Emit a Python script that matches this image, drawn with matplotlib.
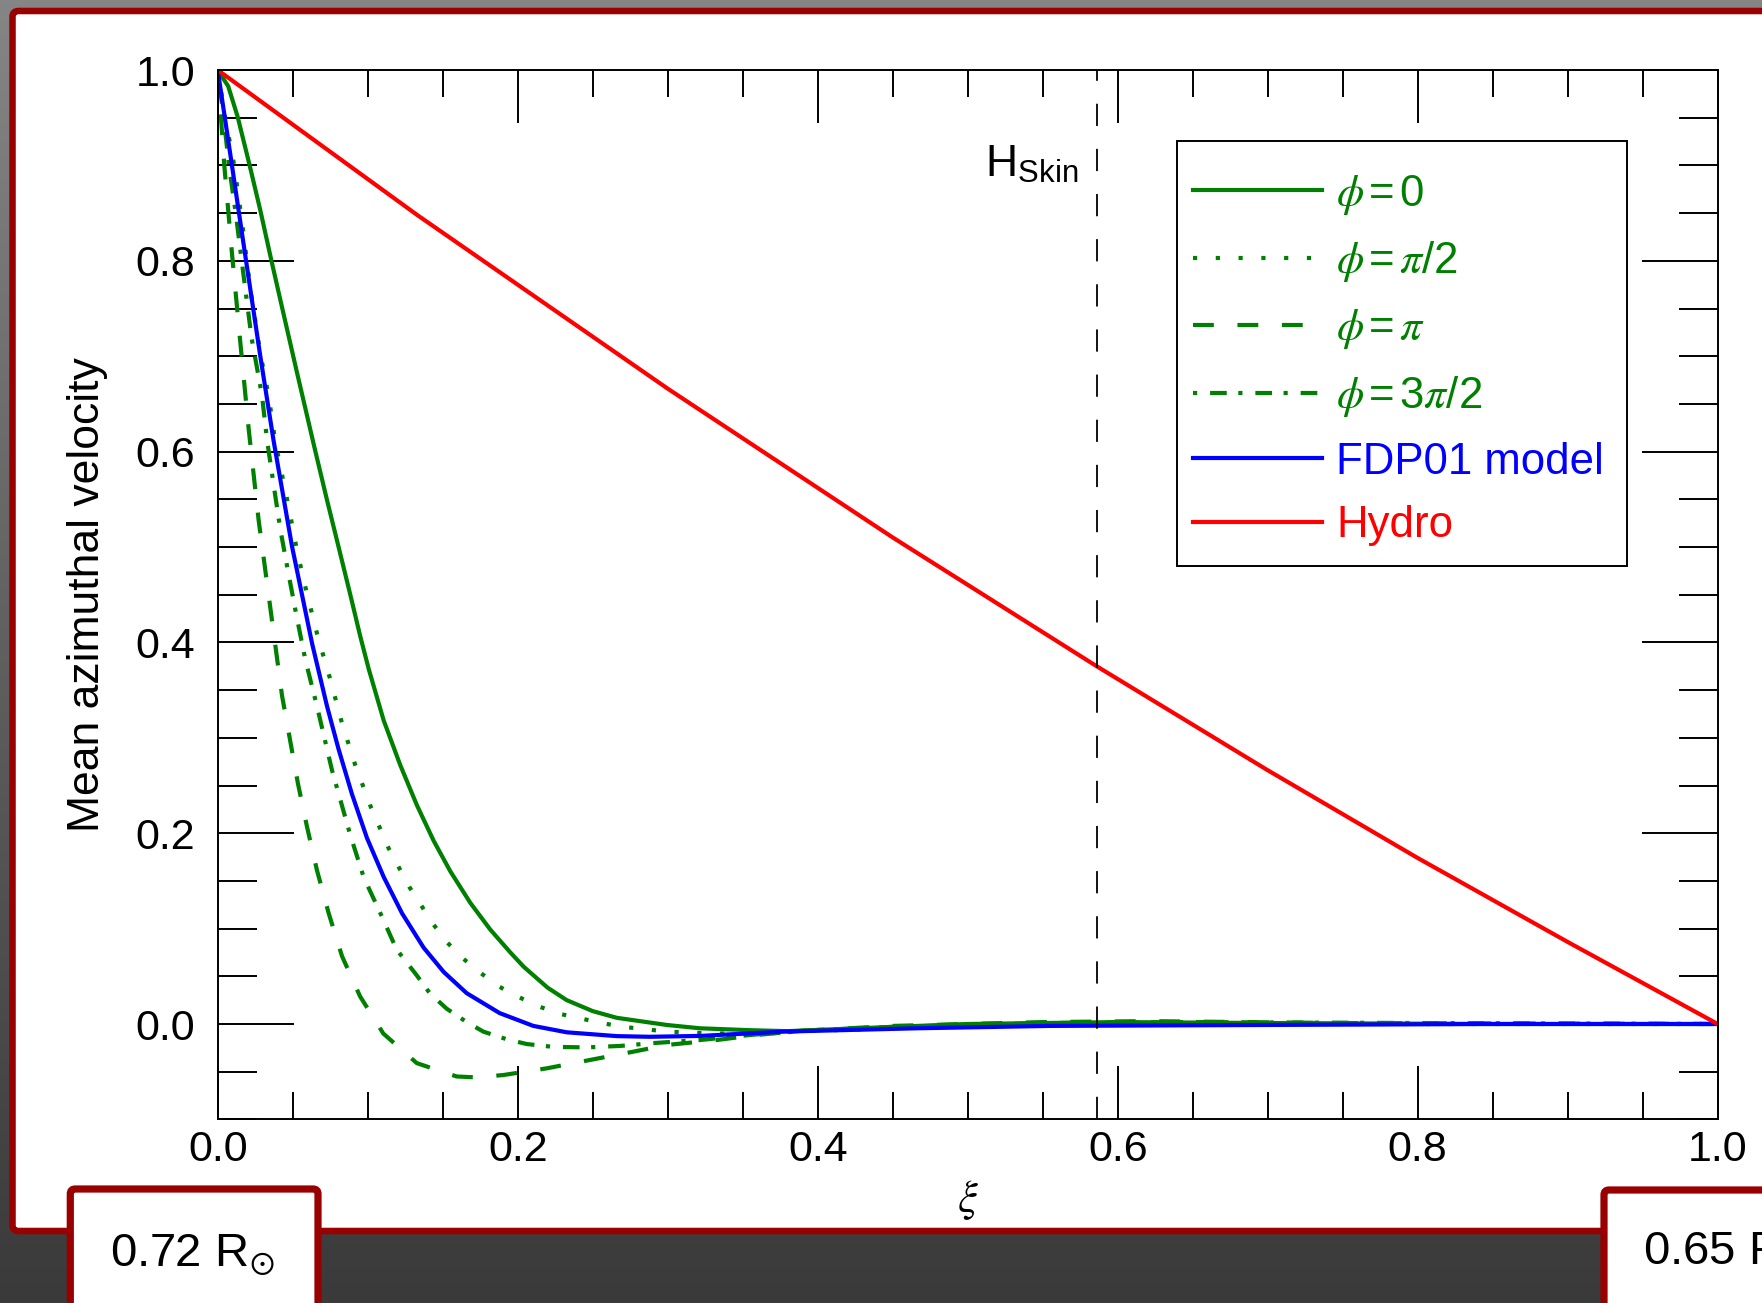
import numpy as np
import matplotlib
matplotlib.use('Agg')
import matplotlib.pyplot as plt
from matplotlib.lines import Line2D
from matplotlib.patches import FancyBboxPatch, Rectangle
from matplotlib.colors import LinearSegmentedColormap
from matplotlib.ticker import MultipleLocator, FormatStrFormatter

plt.rcParams['font.family'] = ['Liberation Sans', 'DejaVu Sans']
plt.rcParams['mathtext.fontset'] = 'custom'
plt.rcParams['mathtext.rm'] = 'Liberation Sans'
plt.rcParams['mathtext.it'] = 'STIXGeneral:italic'
plt.rcParams['mathtext.bf'] = 'Liberation Sans:bold'
plt.rcParams['mathtext.fallback'] = 'stix'
plt.rcParams['lines.scale_dashes'] = False

# values
xi_phi0 = [0, 0.007, 0.0133, 0.0213, 0.0284, 0.0357, 0.0422, 0.0524, 0.065, 0.0729,
           0.0806, 0.0884, 0.0951, 0.1007, 0.1107, 0.1218, 0.1329, 0.144, 0.1551, 0.1684,
           0.1817, 0.1951, 0.204, 0.22, 0.2327, 0.25, 0.266, 0.2993, 0.3215, 0.355,
           0.38, 0.45, 0.5, 0.55, 0.6, 0.7, 0.85, 1.0]
v_phi0 = [1.0, 0.983, 0.951, 0.900, 0.853, 0.801, 0.756, 0.686, 0.601, 0.549,
          0.500, 0.450, 0.406, 0.372, 0.318, 0.271, 0.229, 0.192, 0.160, 0.127,
          0.099, 0.075, 0.060, 0.038, 0.025, 0.0135, 0.0065, -0.001, -0.0045, -0.0065,
          -0.0075, -0.003, 0.0, 0.001, 0.002, 0.001, 0.0, 0.0]

xi_phi_half = [0, 0.005, 0.011, 0.0162, 0.0217, 0.0284, 0.034, 0.0384, 0.0473, 0.0529,
               0.0595, 0.0669, 0.0751, 0.0829, 0.0918, 0.1022, 0.114, 0.128, 0.144, 0.1527,
               0.1633, 0.1749, 0.1867, 0.1997, 0.2131, 0.2271, 0.2415, 0.256, 0.2704, 0.30,
               0.33, 0.36, 0.40, 0.5, 0.6, 0.75, 1.0]
v_phi_half = [1.0, 0.95, 0.9, 0.841, 0.771, 0.703, 0.658, 0.610, 0.542, 0.496,
              0.451, 0.405, 0.361, 0.315, 0.271, 0.227, 0.184, 0.143, 0.104, 0.086,
              0.069, 0.054, 0.040, 0.029, 0.019, 0.011, 0.006, 0.001, -0.003, -0.008,
              -0.010, -0.010, -0.007, -0.002, 0.001, 0.0, 0.0]

xi_phi_pi = [0, 0.0044, 0.0095, 0.0151, 0.0207, 0.0273, 0.0351, 0.0429, 0.0535, 0.0595,
             0.0662, 0.074, 0.0829, 0.0949, 0.1104, 0.1327, 0.1593, 0.1727, 0.1904, 0.2193,
             0.2482, 0.2771, 0.2993, 0.3327, 0.3593, 0.388, 0.45, 0.55, 0.62, 0.75, 1.0]
v_phi_pi = [1.0, 0.900, 0.808, 0.714, 0.623, 0.528, 0.436, 0.344, 0.252, 0.207,
            0.161, 0.116, 0.071, 0.029, -0.010, -0.041, -0.055, -0.056, -0.0535, -0.0465,
            -0.0377, -0.029, -0.022, -0.0168, -0.0115, -0.0073, -0.002, 0.002, 0.003, 0.001, 0.0]

xi_phi_3half = [0, 0.004, 0.0075, 0.012, 0.016, 0.0225, 0.0295, 0.0329, 0.0373, 0.0418,
                0.0473, 0.0529, 0.0584, 0.0662, 0.0762, 0.0884, 0.0973, 0.1095, 0.1193, 0.1327,
                0.1415, 0.1527, 0.166, 0.1771, 0.1927, 0.206, 0.2237, 0.246, 0.2682, 0.2904,
                0.3215, 0.355, 0.39, 0.45, 0.55, 0.65, 0.8, 1.0]
v_phi_3half = [1.0, 0.95, 0.9, 0.85, 0.8, 0.72, 0.659, 0.612, 0.565, 0.518,
               0.471, 0.425, 0.382, 0.333, 0.266, 0.198, 0.154, 0.1125, 0.078, 0.051,
               0.032, 0.016, 0.002, -0.008, -0.016, -0.021, -0.024, -0.0245, -0.023, -0.020,
               -0.0168, -0.0115, -0.007, -0.003, 0.001, 0.002, 0.001, 0.0]

xi_fdp = [0, 0.0095, 0.0173, 0.0284, 0.0373, 0.0495, 0.0629, 0.0729, 0.0806, 0.0895,
          0.0995, 0.1107, 0.1229, 0.1373, 0.1507, 0.166, 0.188, 0.2104, 0.2327, 0.266,
          0.288, 0.3215, 0.377, 0.466, 0.555, 0.7, 0.85, 1.0]
v_fdp = [1.0, 0.900, 0.817, 0.700, 0.611, 0.501, 0.399, 0.333, 0.288, 0.241,
         0.195, 0.154, 0.116, 0.080, 0.0545, 0.0323, 0.0114, -0.002, -0.0087, -0.0127,
         -0.0134, -0.0125, -0.008, -0.0045, -0.002, -0.001, 0.0, 0.0]

xi_hydro = [0, 0.133, 0.3, 0.45, 0.586, 0.7, 0.8, 0.9, 1.0]
v_hydro = [1.0, 0.848, 0.666, 0.51, 0.375, 0.266, 0.174, 0.086, 0.0]

xi_skin = 0.586

labels = [r'$\phi\,$=$\,$0', r'$\phi\,$=$\,\pi$/2', r'$\phi\,$=$\,\pi$',
          r'$\phi\,$=$\,$3$\pi$/2', 'FDP01 model', 'Hydro']
xticks = [0.0, 0.2, 0.4, 0.6, 0.8, 1.0]
yticks = [0.0, 0.2, 0.4, 0.6, 0.8, 1.0]

green = '#008000'
blue = '#0000ff'
red = '#ff0000'
darkred = '#990000'
lw = 3.0

dot_pat = (3.0, 13.4)
dash_pat = (15, 17)
dashdot_pat = (3.0, 9.3, 12, 8.3)

W, H = 1762, 1303
fig = plt.figure(figsize=(W / 100, H / 100), dpi=100)

# background + framed panel, in pixel coordinates
bg = fig.add_axes([0, 0, 1, 1])
bg.set_xlim(0, W)
bg.set_ylim(H, 0)
bg.axis('off')
bg.set_zorder(0)
grad = np.linspace(0, 1, 256).reshape(-1, 1)
bg.imshow(grad, extent=[0, W, H, 0], aspect='auto',
          cmap=LinearSegmentedColormap.from_list('bg', ['#858585', '#3a3a3a']))
bg.add_patch(FancyBboxPatch((12.5, 11), 1900, 1220, boxstyle='round,pad=0,rounding_size=6',
                            fc='white', ec=darkred, lw=4.7))
bg.add_patch(FancyBboxPatch((70.3, 1189), 247.7, 300, boxstyle='round,pad=0,rounding_size=5',
                            fc='white', ec=darkred, lw=5.2))
bg.add_patch(FancyBboxPatch((1604, 1190), 400, 300, boxstyle='round,pad=0,rounding_size=5',
                            fc='white', ec=darkred, lw=5.2))
bg.text(110, 1266.5, r'0.72 R$_{\odot}$', fontsize=34, va='baseline', ha='left')
bg.text(1643, 1265, r'0.65 R$_{\odot}$', fontsize=34, va='baseline', ha='left')

# main plot
ax = fig.add_axes([217.7 / W, 1 - 1119.4 / H, 1500 / W, 1049.4 / H])
ax.set_zorder(2)

ax.plot(xi_phi0, v_phi0, color=green, lw=lw, ls='-')
ax.plot(xi_phi_half, v_phi_half, color=green, lw=lw, dashes=dot_pat)
ax.plot(xi_phi_pi, v_phi_pi, color=green, lw=lw, dashes=dash_pat)
ax.plot(xi_phi_3half, v_phi_3half, color=green, lw=lw, dashes=dashdot_pat)
ax.plot(xi_fdp, v_fdp, color=blue, lw=lw)
ax.plot(xi_hydro, v_hydro, color=red, lw=lw)
ax.axvline(xi_skin, color='black', lw=1.3, dashes=(16, 16.5))

ax.text(0.5115, 0.889, r'$\mathrm{H}_{\mathrm{Skin}}$', fontsize=32, va='baseline', ha='left')

ax.set_xlim(0, 1)
ax.set_ylim(-0.1, 1.0)
ax.set_xticks(xticks)
ax.set_yticks(yticks)
ax.xaxis.set_minor_locator(MultipleLocator(0.05))
ax.yaxis.set_minor_locator(MultipleLocator(0.05))
ax.xaxis.set_major_formatter(FormatStrFormatter('%.1f'))
ax.yaxis.set_major_formatter(FormatStrFormatter('%.1f'))
ax.tick_params(which='both', direction='in', top=True, right=True, width=1.4,
               labelsize=31, color='black')
ax.tick_params(axis='x', which='major', length=38, pad=7.3)
ax.tick_params(axis='x', which='minor', length=19.5)
ax.tick_params(axis='y', which='major', length=55, pad=16)
ax.tick_params(axis='y', which='minor', length=28)
for s in ax.spines.values():
    s.set_linewidth(1.4)

ax.set_xlabel(r'$\xi$', fontsize=32, va='center')
ax.xaxis.set_label_coords(0.5, -0.0768)
ax.set_ylabel('Mean azimuthal velocity', fontsize=32, va='center')
ax.yaxis.set_label_coords(-0.0867, 0.5)

# legend: own frame, frameless legend inside it
ax.add_patch(Rectangle((0.6393, 0.5274), 0.3004, 0.4052, transform=ax.transAxes,
                       fc='white', ec='black', lw=1.4, zorder=4))
handles = [
    Line2D([], [], color=green, lw=lw, ls='-'),
    Line2D([], [], color=green, lw=lw, dashes=dot_pat),
    Line2D([], [], color=green, lw=lw, dashes=dash_pat),
    Line2D([], [], color=green, lw=lw, dashes=dashdot_pat),
    Line2D([], [], color=blue, lw=lw),
    Line2D([], [], color=red, lw=lw),
]
leg = ax.legend(handles, labels, loc='center left', bbox_to_anchor=(0.6499, 0.7241),
                borderaxespad=0, borderpad=0, fontsize=31.5, handlelength=2.97,
                handletextpad=0.32, labelspacing=0.52, frameon=False)
leg.set_zorder(5)
for t, c in zip(leg.get_texts(), [green, green, green, green, blue, red]):
    t.set_color(c)

fig.savefig('out.png', dpi=100)
